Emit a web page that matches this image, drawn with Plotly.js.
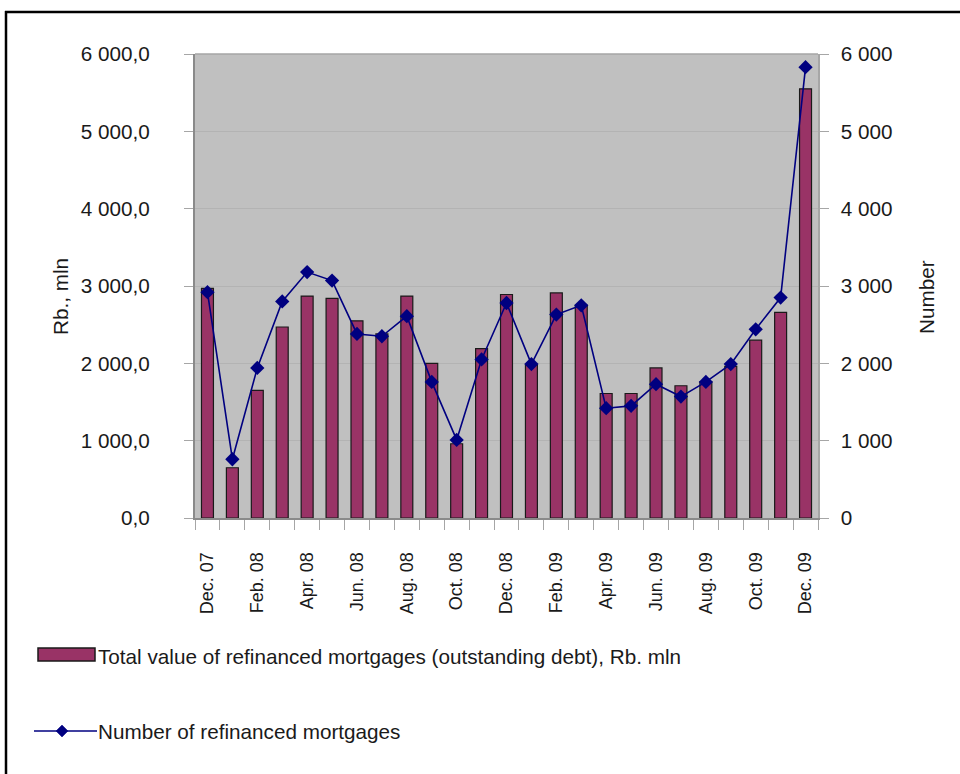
<!DOCTYPE html>
<html>
<head>
<meta charset="utf-8">
<script src="https://cdn.plot.ly/plotly-3.0.1.min.js"></script>
<style>
  html, body { margin: 0; padding: 0; background: #ffffff; }
  #chart { width: 960px; height: 774px; }
</style>
</head>
<body>
<div id="chart"></div>
<script>
// Monthly categories, Dec. 2007 – Dec. 2009
const months = ['Dec. 07','Jan. 08','Feb. 08','Mar. 08','Apr. 08','May 08','Jun. 08','Jul. 08',
  'Aug. 08','Sep. 08','Oct. 08','Nov. 08','Dec. 08','Jan. 09','Feb. 09','Mar. 09','Apr. 09',
  'May 09','Jun. 09','Jul. 09','Aug. 09','Sep. 09','Oct. 09','Nov. 09','Dec. 09'];

// Only every second month carries a visible label
const monthLabels = ['Dec. 07','','Feb. 08','','Apr. 08','','Jun. 08','','Aug. 08','','Oct. 08','',
  'Dec. 08','','Feb. 09','','Apr. 09','','Jun. 09','','Aug. 09','','Oct. 09','','Dec. 09'];

// Total value of refinanced mortgages (outstanding debt), Rb. mln
const debtValue = [2970, 650, 1650, 2470, 2870, 2840, 2550, 2380, 2870, 2000, 960, 2190, 2890,
  1980, 2910, 2750, 1610, 1610, 1940, 1710, 1760, 1960, 2300, 2660, 5550];

// Number of refinanced mortgages
const mortgageCount = [2920, 760, 1940, 2800, 3180, 3070, 2380, 2350, 2610, 1760, 1010, 2050, 2780,
  1990, 2630, 2750, 1420, 1450, 1730, 1570, 1760, 1990, 2440, 2850, 5830];

// Axis tick values and labels
const leftTickVals = [0, 1000, 2000, 3000, 4000, 5000, 6000];
const leftTickText = ['0,0', '1 000,0', '2 000,0', '3 000,0', '4 000,0', '5 000,0', '6 000,0'];
const rightTickVals = [0, 1000, 2000, 3000, 4000, 5000, 6000];
const rightTickText = ['0', '1 000', '2 000', '3 000', '4 000', '5 000', '6 000'];

const barName = 'Total value of refinanced mortgages (outstanding debt), Rb. mln';
const lineName = 'Number of refinanced mortgages';
const leftTitle = 'Rb., mln';
const rightTitle = 'Number';

// Plot-area geometry in pixels
const W = 960, H = 774;
const M = { l: 195, r: 142, t: 54, b: 256 };
const plotW = W - M.l - M.r, plotH = H - M.t - M.b;
const px = x => (x - M.l) / plotW;          // pixel x -> paper x
const py = y => (H - M.b - y) / plotH;      // pixel y -> paper y

const FONT = 'Liberation Sans, Arial, Helvetica, sans-serif';
const FS = 20.7;
const FS_X = 18;
const TXT = '#1a1a1a';
const BAR_COLOR = '#993366';
const LINE_COLOR = '#000080';

const traces = [
  {
    type: 'bar',
    name: barName,
    x: months,
    y: debtValue,
    width: 0.48,
    marker: { color: BAR_COLOR, line: { color: '#1a1a1a', width: 1.2 } },
    yaxis: 'y',
    hoverinfo: 'x+y'
  },
  {
    type: 'scatter',
    mode: 'lines+markers',
    name: lineName,
    x: months,
    y: mortgageCount,
    yaxis: 'y2',
    line: { color: LINE_COLOR, width: 1.6 },
    marker: { symbol: 'diamond', size: 11, color: LINE_COLOR },
    hoverinfo: 'x+y'
  }
];

// Diamond legend symbol as an SVG path around a pixel centre
function diamondPath(cx, cy, r) {
  const ax = r / plotW, ay = r / plotH;
  const x = px(cx), y = py(cy);
  return `M ${x - ax} ${y} L ${x} ${y + ay} L ${x + ax} ${y} L ${x} ${y - ay} Z`;
}

const shapes = [
  // Outer frame (top and left edges)
  { type: 'line', xref: 'paper', yref: 'paper', x0: px(5), x1: px(962), y0: py(12), y1: py(12),
    line: { color: '#000000', width: 2.5 } },
  { type: 'line', xref: 'paper', yref: 'paper', x0: px(6), x1: px(6), y0: py(11), y1: py(776),
    line: { color: '#000000', width: 2.5 } },
  // Plot area border (top)
  { type: 'line', xref: 'paper', yref: 'paper', x0: 0, x1: 1, y0: 1, y1: 1,
    line: { color: '#a6a6a6', width: 1.5 }, layer: 'above' },
  // Legend: bar swatch
  { type: 'rect', xref: 'paper', yref: 'paper', x0: px(38), x1: px(95), y0: py(661), y1: py(648),
    fillcolor: BAR_COLOR, line: { color: '#1a1a1a', width: 1.5 } },
  // Legend: line with diamond
  { type: 'line', xref: 'paper', yref: 'paper', x0: px(34), x1: px(97), y0: py(731), y1: py(731),
    line: { color: LINE_COLOR, width: 1.6 } },
  { type: 'path', xref: 'paper', yref: 'paper', path: diamondPath(62, 731, 6),
    fillcolor: LINE_COLOR, line: { color: LINE_COLOR, width: 0.5 } }
];

const annotations = [
  // Legend texts
  { xref: 'paper', yref: 'paper', x: px(96), y: py(656), xanchor: 'left', yanchor: 'middle',
    text: barName, showarrow: false, font: { family: FONT, size: FS, color: TXT } },
  { xref: 'paper', yref: 'paper', x: px(96), y: py(731), xanchor: 'left', yanchor: 'middle',
    text: lineName, showarrow: false, font: { family: FONT, size: FS, color: TXT } },
  // Axis titles
  { xref: 'paper', yref: 'paper', x: px(60), y: py(297), xanchor: 'center', yanchor: 'middle',
    textangle: -90, text: leftTitle, showarrow: false, font: { family: FONT, size: FS, color: TXT } },
  { xref: 'paper', yref: 'paper', x: px(926), y: py(297), xanchor: 'center', yanchor: 'middle',
    textangle: -90, text: rightTitle, showarrow: false, font: { family: FONT, size: FS, color: TXT } }
];

const layout = {
  width: W,
  height: H,
  margin: { l: M.l, r: M.r, t: M.t, b: M.b, pad: 0 },
  paper_bgcolor: '#ffffff',
  plot_bgcolor: '#c0c0c0',
  showlegend: false,
  font: { family: FONT, size: FS, color: TXT },
  xaxis: {
    type: 'category',
    range: [-0.5, months.length - 0.5],
    tickmode: 'array',
    tickvals: months,
    ticktext: monthLabels,
    tickangle: -90,
    tickson: 'boundaries',
    ticks: 'outside',
    ticklen: 10,
    tickcolor: '#a6a6a6',
    ticklabelstandoff: 25,
    showgrid: false,
    showline: true,
    linecolor: '#8a8a8a',
    linewidth: 2,
    tickfont: { family: FONT, size: FS_X, color: TXT },
    fixedrange: true
  },
  yaxis: {
    range: [0, 6000],
    tickmode: 'array',
    tickvals: leftTickVals,
    ticktext: leftTickText,
    ticks: 'outside',
    ticklen: 9,
    tickcolor: '#a6a6a6',
    ticklabelstandoff: 30,
    showgrid: true,
    gridcolor: '#b3b3b3',
    gridwidth: 1,
    zeroline: false,
    showline: true,
    linecolor: '#8a8a8a',
    linewidth: 2,
    tickfont: { family: FONT, size: FS, color: TXT },
    fixedrange: true
  },
  yaxis2: {
    overlaying: 'y',
    side: 'right',
    range: [0, 6000],
    tickmode: 'array',
    tickvals: rightTickVals,
    ticktext: rightTickText,
    ticks: 'outside',
    ticklen: 9,
    tickcolor: '#a6a6a6',
    ticklabelstandoff: 8,
    showgrid: false,
    zeroline: false,
    showline: true,
    linecolor: '#a6a6a6',
    linewidth: 1.5,
    tickfont: { family: FONT, size: FS, color: TXT },
    fixedrange: true
  },
  shapes: shapes,
  annotations: annotations
};

Plotly.newPlot('chart', traces, layout, { displayModeBar: false, staticPlot: true });
</script>
</body>
</html>
